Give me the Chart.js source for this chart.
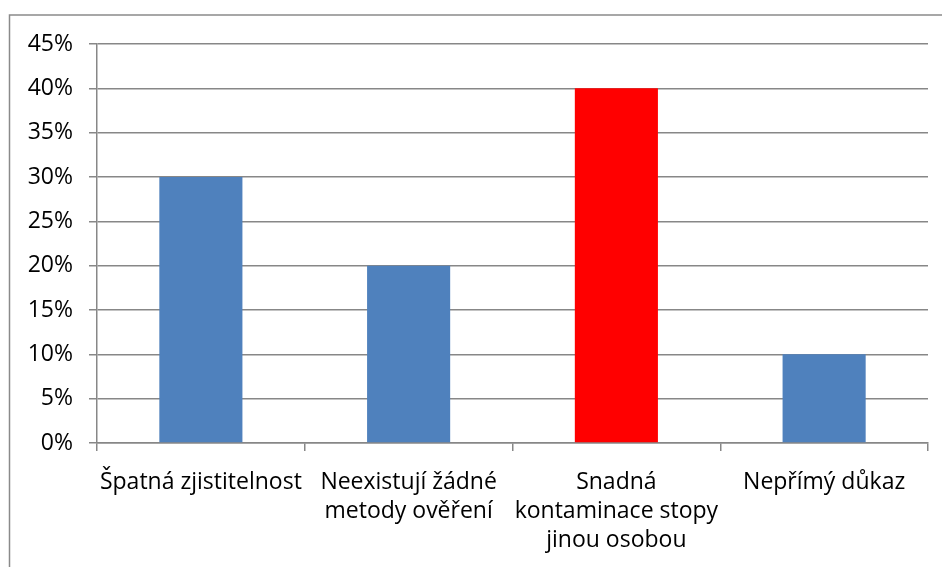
<!DOCTYPE html>
<html>
<head>
<meta charset="utf-8">
<script src="https://cdn.jsdelivr.net/npm/chart.js@4"></script>
<style>
  html, body { margin: 0; padding: 0; background: #fff; }
  #wrap { width: 942px; height: 567px; }
</style>
</head>
<body>
<div id="wrap"><canvas id="chart"></canvas></div>
<script>
// Chart data
const categories = [
  ["Špatná zjistitelnost"],
  ["Neexistují žádné", "metody ověření"],
  ["Snadná", "kontaminace stopy", "jinou osobou"],
  ["Nepřímý důkaz"]
];
const values = [30, 20, 40, 10];
const barColors = ["#4F81BD", "#4F81BD", "#FF0000", "#4F81BD"];
const yTicks = [0, 5, 10, 15, 20, 25, 30, 35, 40, 45];

const gridColor = "#878787";
const labelFont = { family: "Open Sans", size: 23, lineHeight: 1.26 };

// Outer frame like the Excel chart border
const framePlugin = {
  id: "frame",
  afterDraw(chart) {
    const c = chart.ctx;
    c.save();
    c.strokeStyle = "#8a8a8a";
    c.lineWidth = 1.5;
    c.strokeRect(9.5, 15, 1000, 1000);
    c.restore();
  }
};

const ctx = document.getElementById("chart").getContext("2d");
new Chart(ctx, {
  type: "bar",
  data: {
    labels: categories,
    datasets: [{
      data: values,
      backgroundColor: barColors,
      borderWidth: 0,
      categoryPercentage: 1,
      barPercentage: 0.4
    }]
  },
  options: {
    responsive: true,
    maintainAspectRatio: false,
    animation: false,
    events: [],
    layout: { padding: { top: 44, right: 14, left: 0, bottom: 0 } },
    plugins: {
      legend: { display: false },
      tooltip: { enabled: false }
    },
    scales: {
      x: {
        afterFit(scale) { scale.height = 124; },
        grid: {
          display: true,
          offset: true,
          drawOnChartArea: false,
          drawTicks: true,
          tickLength: 8,
          color: gridColor,
          lineWidth: 1.5
        },
        border: { display: true, color: gridColor, width: 1.5 },
        ticks: {
          color: "#000",
          font: labelFont,
          padding: 17,
          maxRotation: 0,
          autoSkip: false
        }
      },
      y: {
        min: 0,
        max: 45,
        afterFit(scale) { scale.width = 97; },
        afterBuildTicks(scale) {
          scale.ticks = yTicks.map(v => ({ value: v }));
        },
        grid: {
          color: gridColor,
          lineWidth: 1.5,
          tickLength: 8
        },
        border: { display: true, color: gridColor, width: 1.5 },
        ticks: {
          color: "#000",
          font: labelFont,
          padding: 16,
          callback: v => v + "%"
        }
      }
    }
  },
  plugins: [framePlugin]
});
</script>
</body>
</html>
